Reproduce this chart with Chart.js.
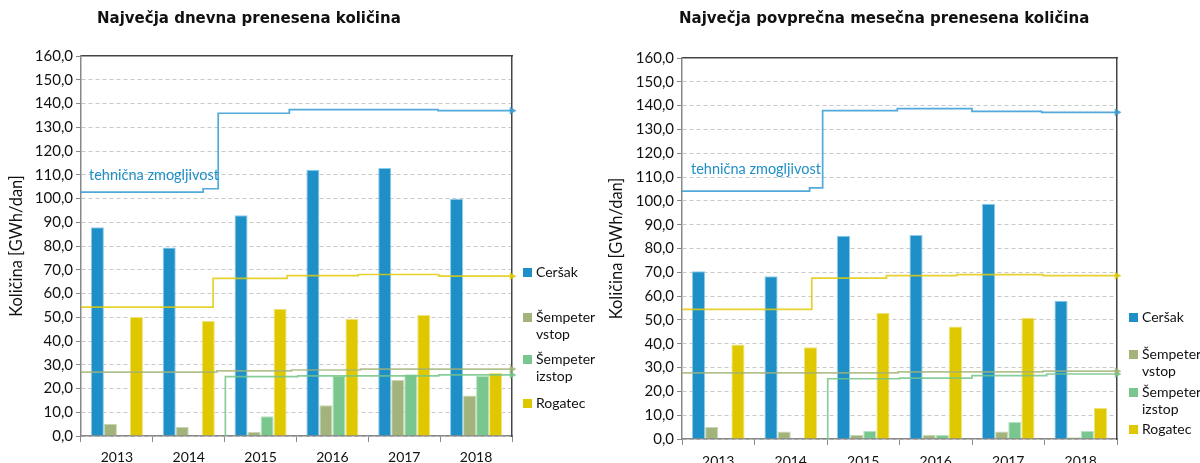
<!DOCTYPE html>
<html>
<head>
<meta charset="utf-8">
<script src="https://cdn.jsdelivr.net/npm/chart.js@4.4.0/dist/chart.umd.min.js"></script>
<style>
  body { margin: 0; width: 1200px; height: 463px; background: #fff; overflow: hidden; position: relative; font-family: Lato, sans-serif; }
  .box { position: absolute; top: 0; width: 600px; height: 463px; }
  .box canvas { position: absolute; left: 0; top: 0; }
  .title { position: absolute; top: 9px; font: bold 15px "DejaVu Sans", sans-serif; color: #111; white-space: nowrap; }
  .cap { position: absolute; font-size: 14.5px; color: #1f8fc7; white-space: nowrap; }
  .leg { position: absolute; font-size: 14px; color: #111; line-height: 17px; }
  .leg div { position: absolute; white-space: nowrap; }
  .leg span { position: absolute; width: 9px; height: 9px; }
</style>
</head>
<body>
<div class="box" style="left:0"><canvas id="daily_chart"></canvas><canvas id="daily_cap"></canvas></div>
<div class="box" style="left:600px"><canvas id="monthly_chart"></canvas><canvas id="monthly_cap"></canvas></div>

<div class="title" style="left:97px">Največja dnevna prenesena količina</div>
<div class="title" style="left:679px">Največja povprečna mesečna prenesena količina</div>
<div class="cap" style="left:89px;top:166px">tehnična zmogljivost</div>
<div class="cap" style="left:691px;top:160px">tehnična zmogljivost</div>

<div class="leg" id="leg1" style="left:523px;top:0"></div>
<div class="leg" id="leg2" style="left:1129px;top:0"></div>

<script>
// categories
const years = ['2013', '2014', '2015', '2016', '2017', '2018']
const series_names = ['Ceršak', 'Šempeter vstop', 'Šempeter izstop', 'Rogatec']
const colors = ['#1f8fc7', '#a2b47c', '#79c78f', '#dfc800']
const edge_colors = ['#8ccbea', '#cbd6b3', '#b5e2c1', '#efe27a']
const line_colors = ['rgba(50,155,212,0.85)', 'rgba(160,178,118,0.8)', 'rgba(115,196,136,0.85)', 'rgba(224,202,10,0.85)']

// daily maximum (GWh/dan)
const daily_cersak = [87.9, 79.4, 93.0, 112.1, 112.8, 99.9]
const daily_vstop = [5.2, 3.8, 1.8, 12.9, 23.6, 17.1]
const daily_izstop = [null, null, 8.3, 25.3, 26.0, 25.3]
const daily_rogatec = [50.1, 48.4, 53.6, 49.3, 50.9, 26.5]

// monthly average maximum (GWh/dan)
const monthly_cersak = [70.4, 68.3, 85.4, 85.7, 98.8, 58.1]
const monthly_vstop = [5.0, 3.1, 1.7, 1.7, 3.2, 0.7]
const monthly_izstop = [null, null, 3.4, 1.7, 7.1, 3.4]
const monthly_rogatec = [39.7, 38.5, 52.9, 47.2, 50.9, 13.0]

// technical capacity, steps in time (decimal year, value)
const daily_cap_cersak = [[2013, 102.7], [2014.70, 104.1], [2014.91, 135.9], [2015.90, 137.4], [2017.97, 137.0], [2019, 137.0]]
const daily_cap_vstop = [[2013, 26.9], [2014.89, 27.4], [2015.93, 27.8], [2016.89, 28.2], [2019, 28.2]]
const daily_cap_izstop = [[2015.01, 0], [2015.01, 25.0], [2016.02, 25.3], [2017.98, 25.7], [2019, 25.7]]
const daily_cap_rogatec = [[2013, 54.3], [2014.84, 66.4], [2015.87, 67.5], [2016.86, 68.0], [2017.98, 67.3], [2019, 67.3]]

const monthly_cap_cersak = [[2013, 104.1], [2014.76, 105.5], [2014.94, 137.9], [2015.97, 138.7], [2017.0, 137.6], [2017.96, 137.2], [2019, 137.2]]
const monthly_cap_vstop = [[2013, 27.8], [2015.98, 28.2], [2017.98, 28.5], [2019, 28.5]]
const monthly_cap_izstop = [[2015.01, 0], [2015.01, 25.3], [2016.0, 25.6], [2017.0, 26.6], [2018.03, 27.3], [2019, 27.3]]
const monthly_cap_rogatec = [[2013, 54.4], [2014.79, 67.6], [2015.82, 68.6], [2016.79, 69.0], [2017.98, 68.6], [2019, 68.6]]

const y_ticks = [0, 10, 20, 30, 40, 50, 60, 70, 80, 90, 100, 110, 120, 130, 140, 150, 160]

function to_points(arr) {
  return arr.map(p => ({x: p[0], y: p[1]}))
}

function setup_canvas(id) {
  const c = document.getElementById(id)
  c.width = 600
  c.height = 463
  return c
}

// bars, axes and frame
function build_bars(canvas_id, bars, area) {
  const datasets = bars.map((vals, i) => ({
    label: series_names[i],
    data: vals,
    backgroundColor: colors[i],
    borderColor: edge_colors[i],
    borderWidth: 1,
    categoryPercentage: 0.725,
    barPercentage: 1
  }))

  const dark = '#444'
  return new Chart(setup_canvas(canvas_id), {
    type: 'bar',
    data: { labels: years, datasets: datasets },
    options: {
      responsive: false,
      animation: false,
      events: [],
      layout: { padding: { left: 0, top: area.top, right: area.right, bottom: 0 } },
      plugins: { legend: { display: false }, tooltip: { enabled: false } },
      scales: {
        x: {
          type: 'category',
          offset: true,
          grid: { offset: true, drawOnChartArea: false, drawTicks: true, tickLength: 6, color: '#888' },
          border: { color: '#888', width: 1.5 },
          ticks: { color: '#111', font: { family: 'Lato', size: 14 }, padding: area.tick_pad },
          afterFit: s => { s.height = area.bottom }
        },
        top_frame: {
          type: 'linear',
          axis: 'x',
          position: 'top',
          offset: false,
          min: 0,
          max: 1,
          ticks: { display: false },
          grid: { offset: false, drawOnChartArea: false, drawTicks: false },
          border: { color: dark, width: 1.5 },
          afterFit: s => { s.height = 0 }
        },
        y: {
          min: 0,
          max: 160,
          afterBuildTicks: s => { s.ticks = y_ticks.map(v => ({value: v})) },
          grid: {
            color: ctx => ctx.tick && ctx.tick.value === 160 ? 'rgba(0,0,0,0)' : '#c9c9c9',
            tickColor: '#888',
            tickLength: 5,
            lineWidth: 1
          },
          border: { color: '#888', width: 1.5, dash: [4, 3] },
          ticks: {
            color: '#111',
            font: { family: 'Lato', size: 15 },
            padding: 3,
            callback: v => v.toFixed(1).replace('.', ',')
          },
          title: {
            display: true,
            text: 'Količina [GWh/dan]',
            color: '#111',
            font: { family: 'Lato', size: 16.5 },
            padding: { top: 7, bottom: 0 }
          },
          afterFit: s => { s.width = area.left }
        },
        right_frame: {
          type: 'linear',
          axis: 'y',
          position: 'right',
          min: 0,
          max: 160,
          ticks: { display: false },
          grid: { drawOnChartArea: false, drawTicks: false },
          border: { color: dark, width: 1.5 },
          afterFit: s => { s.width = 0 }
        }
      }
    }
  })
}

// technical capacity step lines, laid over the bars on the same plot area
function build_caps(canvas_id, caps, area) {
  const datasets = caps.map((pts, i) => {
    const n = pts.length
    return {
      label: series_names[i] + ' zmogljivost',
      data: to_points(pts),
      stepped: true,
      clip: false,
      borderColor: line_colors[i],
      backgroundColor: line_colors[i],
      borderWidth: 1.7,
      pointStyle: 'triangle',
      rotation: 90,
      pointRadius: ctx => ctx.dataIndex === n - 1 ? 4.5 : 0,
      pointBorderWidth: 0
    }
  })
  return new Chart(setup_canvas(canvas_id), {
    type: 'line',
    data: { datasets: datasets },
    options: {
      responsive: false,
      animation: false,
      events: [],
      layout: { padding: { left: area.left, top: area.top, right: area.right, bottom: area.bottom } },
      plugins: { legend: { display: false }, tooltip: { enabled: false } },
      scales: {
        x: { type: 'linear', min: 2013, max: 2019, display: false },
        y: { type: 'linear', min: 0, max: 160, display: false }
      }
    }
  })
}

const daily_area = { left: 81, top: 56, right: 88, bottom: 27, tick_pad: 7 }
const monthly_area = { left: 82, top: 58, right: 83, bottom: 24, tick_pad: 8 }

build_bars('daily_chart', [daily_cersak, daily_vstop, daily_izstop, daily_rogatec], daily_area)
build_caps('daily_cap', [daily_cap_cersak, daily_cap_vstop, daily_cap_izstop, daily_cap_rogatec], daily_area)

build_bars('monthly_chart', [monthly_cersak, monthly_vstop, monthly_izstop, monthly_rogatec], monthly_area)
build_caps('monthly_cap', [monthly_cap_cersak, monthly_cap_vstop, monthly_cap_izstop, monthly_cap_rogatec], monthly_area)

// legend next to each chart
function build_legend(id, rows) {
  const el = document.getElementById(id)
  rows.forEach((r, i) => {
    const sq = document.createElement('span')
    sq.style.background = colors[i]
    sq.style.top = (r.y - 4.5) + 'px'
    sq.style.left = '0px'
    el.appendChild(sq)
    const t = document.createElement('div')
    t.innerHTML = series_names[i].replace(' ', '<br>')
    t.style.left = '13px'
    t.style.top = (r.y - 9) + 'px'
    el.appendChild(t)
  })
}
build_legend('leg1', [{y: 272}, {y: 317}, {y: 359}, {y: 403}])
build_legend('leg2', [{y: 317}, {y: 354}, {y: 392}, {y: 429}])
</script>
</body>
</html>
